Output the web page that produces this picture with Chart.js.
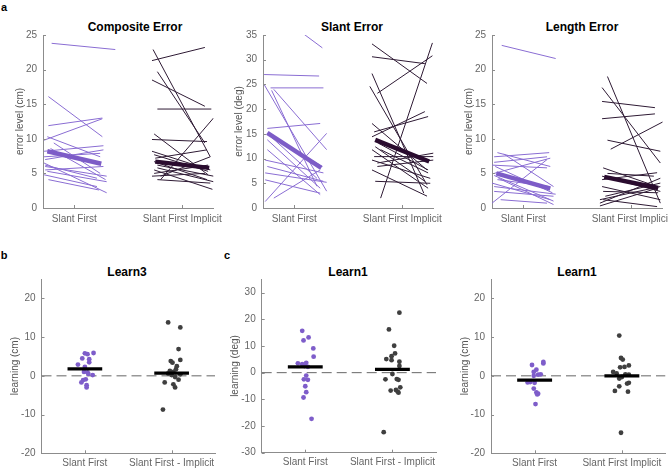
<!DOCTYPE html>
<html>
<head><meta charset="utf-8"><title>Error and learning</title>
<script src="https://cdn.jsdelivr.net/npm/chart.js"></script>
<style>
body{margin:0;width:668px;height:469px;position:relative;background:#fff;overflow:hidden;font-family:"Liberation Sans",Arial,sans-serif;}
canvas{position:absolute;left:0;top:0;}
.t{position:absolute;font-weight:bold;font-size:12px;transform:translate(-50%,-50%);white-space:nowrap;color:#000;}
</style>
</head>
<body>
<div class="t" style="left:4px;top:7px;font-size:11px">a</div>
<div class="t" style="left:4px;top:255px;font-size:11px">b</div>
<div class="t" style="left:227px;top:255px;font-size:11px">c</div>
<div class="t" style="left:135px;top:27px">Composite Error</div>
<div class="t" style="left:352px;top:27px">Slant Error</div>
<div class="t" style="left:582px;top:27px">Length Error</div>
<div class="t" style="left:127px;top:272px">Learn3</div>
<div class="t" style="left:348px;top:272px">Learn1</div>
<div class="t" style="left:577px;top:272px">Learn1</div>
<canvas id="a1" width="668" height="469"></canvas>
<canvas id="a2" width="668" height="469"></canvas>
<canvas id="a3" width="668" height="469"></canvas>
<canvas id="b1" width="668" height="469"></canvas>
<canvas id="c1" width="668" height="469"></canvas>
<canvas id="c2" width="668" height="469"></canvas>
<script>
// categories
const groupsTop = ['Slant First', 'Slant First Implicit'];
const groupsDash = ['Slant First', 'Slant First - Implicit'];

// y ticks
const ticks25 = [0, 5, 10, 15, 20, 25];
const ticks35 = [0, 5, 10, 15, 20, 25, 30, 35];
const ticksCm = [-20, -10, 0, 10, 20];
const ticksDeg = [-30, -20, -10, 0, 10, 20, 30];

// a: composite error (cm), one line per subject, before -> after (x = jittered ends)
const compP_pre  = [23.8, 16.1, 11.9, 9.8, 10.3, 8.2, 7.0, 7.4, 6.0, 5.3, 4.8, 8.6, 9.4, 6.5, 4.1, 5.5, 6.2];
const compP_post = [22.9, 10.3, 13.0, 12.9, 7.4, 9.0, 8.4, 7.9, 4.6, 3.8, 3.1, 4.1, 5.0, 2.2, 2.6, 6.0, 4.3];
const compP_x0   = [0.79, 0.76, 0.76, 0.72, 0.75, 0.72, 0.73, 0.72, 0.73, 0.75, 0.72, 0.78, 0.81, 0.72, 0.76, 0.73, 0.73];
const compP_x1   = [1.38, 1.26, 1.26, 1.26, 1.24, 1.27, 1.27, 1.24, 1.30, 1.30, 1.21, 1.29, 1.24, 1.30, 1.23, 1.27, 1.21];
const compB_pre  = [21.3, 22.9, 19.7, 18.5, 14.3, 9.9, 10.7, 4.1, 8.2, 5.5, 4.1, 7.2, 5.0, 6.2, 4.6, 5.8, 7.7, 4.6, 6.7];
const compB_post = [23.2, 7.4, 9.4, 14.7, 14.3, 9.6, 4.8, 13.0, 5.5, 2.7, 3.6, 8.4, 6.2, 4.6, 5.0, 3.8, 5.3, 7.4, 4.1];
const compB_x0   = [1.72, 1.73, 1.77, 1.72, 1.77, 1.72, 1.74, 1.80, 1.72, 1.74, 1.77, 1.75, 1.74, 1.77, 1.72, 1.77, 1.74, 1.80, 1.74];
const compB_x1   = [2.21, 2.26, 2.21, 2.21, 2.27, 2.23, 2.24, 2.29, 2.26, 2.28, 2.26, 2.23, 2.24, 2.29, 2.21, 2.29, 2.24, 2.26, 2.23];
const compP_mean = [8.2, 6.4];
const compB_mean = [6.7, 5.8];

// slant error (deg)
const slantP_pre  = [41.0, 27.0, 24.3, 25.0, 24.0, 23.8, 16.1, 15.0, 13.8, 11.8, 9.7, 8.4, 7.1, 5.7, 1.3, 2.0, 14.5];
const slantP_post = [32.4, 26.7, 24.3, 3.4, 11.8, 4.4, 17.1, 8.4, 4.0, 2.7, 7.1, 5.4, 5.2, 3.0, 15.1, 7.7, 6.0];
const slantP_x0   = [0.73, 0.72, 0.78, 0.72, 0.81, 0.79, 0.75, 0.75, 0.75, 0.75, 0.73, 0.75, 0.73, 0.73, 0.73, 0.81, 0.78];
const slantP_x1   = [1.26, 1.23, 1.27, 1.30, 1.30, 1.21, 1.24, 1.26, 1.24, 1.24, 1.27, 1.27, 1.30, 1.24, 1.30, 1.24, 1.21];
const slantB_pre  = [33.2, 30.6, 27.2, 24.6, 23.2, 14.4, 15.4, 17.1, 2.0, 11.8, 10.4, 9.7, 7.7, 5.4, 9.1, 13.1, 12.4, 8.4, 11.8];
const slantB_post = [25.2, 29.2, 3.0, 4.7, 30.8, 19.5, 18.5, 7.7, 33.4, 4.0, 10.4, 6.0, 2.4, 5.0, 11.1, 7.7, 5.4, 9.7, 7.1];
const slantB_x0   = [1.72, 1.72, 1.72, 1.70, 1.77, 1.72, 1.74, 1.72, 1.80, 1.72, 1.74, 1.72, 1.72, 1.75, 1.77, 1.78, 1.75, 1.77, 1.80];
const slantB_x1   = [2.23, 2.21, 2.20, 2.23, 2.28, 2.21, 2.24, 2.23, 2.28, 2.24, 2.29, 2.26, 2.23, 2.26, 2.29, 2.24, 2.21, 2.29, 2.24];
const slantP_mean = [15.2, 8.1];
const slantB_mean = [13.8, 9.4];

// length error (cm)
const lenP_pre  = [23.5, 8.0, 7.4, 6.6, 6.2, 7.8, 5.0, 3.6, 2.4, 0.7, 4.3, 6.0, 3.1, 1.2, 4.1, 4.7];
const lenP_post = [21.6, 6.0, 8.0, 7.4, 5.8, 3.1, 7.2, 1.2, 1.7, 7.0, 0.5, 2.2, 2.0, 0.7, 3.1, 1.0];
const lenP_x0   = [0.80, 0.76, 0.73, 0.73, 0.71, 0.82, 0.73, 0.71, 0.73, 0.71, 0.77, 0.74, 0.73, 0.79, 0.76, 0.73];
const lenP_x1   = [1.30, 1.25, 1.24, 1.22, 1.22, 1.28, 1.25, 1.25, 1.28, 1.22, 1.28, 1.27, 1.30, 1.22, 1.25, 1.28];
const lenB_pre  = [17.4, 19.0, 15.4, 12.9, 9.8, 8.5, 5.8, 4.1, 3.1, 0.7, 2.4, 0.3, 1.7, 4.6, 1.2, 5.0, 1.2];
const lenB_post = [6.5, 0.7, 14.5, 13.6, 8.2, 12.5, 3.1, 5.1, 1.2, 4.3, 2.2, 2.9, 3.6, 2.4, 0.2, 4.6, 3.1];
const lenB_x0   = [1.73, 1.78, 1.73, 1.73, 1.78, 1.81, 1.74, 1.73, 1.73, 1.71, 1.74, 1.71, 1.76, 1.73, 1.74, 1.78, 1.71];
const lenB_x1   = [2.27, 2.27, 2.22, 2.22, 2.27, 2.30, 2.24, 2.24, 2.27, 2.27, 2.25, 2.25, 2.27, 2.27, 2.24, 2.21, 2.27];
const lenP_mean = [5.0, 2.8];
const lenB_mean = [4.5, 2.9];

// b: Learn3 (cm)
const l3P_x = [1.00, 1.03, 1.10, 0.97, 1.05, 1.05, 0.92, 1.00, 0.99, 1.03, 1.09, 1.04, 0.98, 1.01, 0.96, 1.02, 1.02];
const l3P_y = [5.8, 5.6, 5.9, 4.5, 4.3, 3.5, 2.9, 2.3, 1.0, 0.9, 0.2, 0.5, -1.1, -0.9, -1.7, -2.4, -3.0];
const l3B_x = [1.96, 2.10, 2.08, 2.10, 1.99, 2.01, 2.06, 2.05, 1.98, 2.02, 1.96, 2.10, 2.00, 2.04, 2.08, 1.92, 2.02, 2.04, 1.90];
const l3B_y = [13.8, 12.5, 6.9, 4.1, 3.8, 3.4, 2.5, 1.7, 1.3, 1.0, 0.6, 0.4, 0.2, -0.3, -1.0, -1.7, -2.2, -3.0, -8.7];
const l3_mean = [1.8, 0.7];

// c: Learn1 (deg)
const l1dP_x = [0.965, 1.038, 0.98, 1.092, 1.096, 0.915, 0.965, 1.011, 0.992, 1.03, 1.011, 0.984, 1.03, 1.0, 1.011, 0.98, 1.072];
const l1dP_y = [15.7, 13.2, 12.1, 9.1, 6.0, 3.5, 3.2, 3.7, 2.5, 2.2, -1.1, -2.5, -2.7, -5.1, -7.3, -9.3, -17.3];
const l1dB_x = [2.08, 1.96, 2.02, 2.03, 1.99, 1.93, 1.99, 2.08, 2.08, 2.00, 1.92, 2.05, 2.07, 2.09, 2.04, 2.06, 2.07, 1.98, 1.90];
const l1dB_y = [22.5, 16.2, 10.1, 7.2, 6.2, 5.1, 4.7, 4.1, 2.5, -0.5, -2.5, -2.4, -2.7, -5.5, -6.5, -7.1, -7.5, -6.7, -22.3];
const l1d_mean = [2.2, 1.2];

// c: Learn1 (cm)
const l1cP_x = [0.97, 1.10, 1.10, 1.02, 0.99, 1.07, 1.04, 0.99, 0.95, 0.92, 1.00, 0.99, 1.02, 1.04, 1.03, 1.01];
const l1cP_y = [2.8, 3.6, 3.2, 1.6, 1.0, 0.4, 0.3, 0.0, -1.6, -1.7, -1.8, -3.3, -4.3, -4.6, -4.8, -7.3];
const l1cB_x = [1.97, 1.99, 2.01, 2.08, 1.98, 2.03, 1.90, 1.94, 2.04, 2.08, 2.00, 1.97, 2.06, 2.08, 1.97, 1.92, 2.07, 1.99];
const l1cB_y = [10.4, 4.6, 4.2, 2.7, 2.2, 2.3, 1.0, 0.6, 0.4, 0.3, -0.3, -0.7, -2.0, -1.8, -2.7, -3.9, -4.1, -14.7];
const l1c_mean = [-1.1, 0.0];

const purple = '#8a6dd3', purpleMean = '#7d5cc7', dark = '#2e1a34', darkMean = '#2a0c2f';
const dotPurple = '#7e5dca', dotGray = '#3f3f3f';
const axisColor = '#8c8c8c', tickColor = '#666';
const font = { family: '"Liberation Sans", Arial, sans-serif', size: 10 };

// MATLAB style ticks pointing into the axes
const inwardTicks = {
  id: 'inwardTicks',
  afterDraw(chart) {
    const { ctx, chartArea: a, scales: { x, y } } = chart;
    ctx.save();
    ctx.strokeStyle = axisColor;
    ctx.lineWidth = 1;
    ctx.beginPath();
    y.ticks.forEach(t => { const p = Math.round(y.getPixelForValue(t.value)) + 0.5; ctx.moveTo(a.left, p); ctx.lineTo(a.left + 3, p); });
    x.ticks.forEach(t => { const p = Math.round(x.getPixelForValue(t.value)) + 0.5; ctx.moveTo(p, a.bottom); ctx.lineTo(p, a.bottom - 3); });
    ctx.stroke();
    ctx.restore();
  }
};

function slopeSets(pre, post, x0, x1, color) {
  return pre.map((v, i) => ({
    data: [{ x: x0[i], y: v }, { x: x1[i], y: post[i] }],
    borderColor: color, borderWidth: 1, pointRadius: 0
  }));
}
function meanLine(m, g, color) {
  return { data: [{ x: g - 0.25, y: m[0] }, { x: g + 0.25, y: m[1] }], borderColor: color, borderWidth: 4.5, pointRadius: 0 };
}
function dots(xs, ys, color) {
  return { data: ys.map((v, i) => ({ x: xs[i], y: v })), showLine: false, pointRadius: 2.4,
           pointBackgroundColor: color, pointBorderColor: color, pointBorderWidth: 0, borderWidth: 0 };
}
function meanBar(m, g) {
  return { data: [{ x: g - 0.2, y: m }, { x: g + 0.2, y: m }], borderColor: '#000', borderWidth: 3.3, pointRadius: 0 };
}
function zeroLine(xr) {
  return { data: [{ x: xr[0], y: 0 }, { x: xr[1], y: 0 }], borderColor: '#666', borderWidth: 1, borderDash: [10, 5], pointRadius: 0 };
}

function draw(id, box, xr, yr, yTicks, labels, yTitle, datasets) {
  const yW = box.L - (box.tx - 6);
  new Chart(document.getElementById(id), {
    type: 'line',
    data: { datasets },
    options: {
      responsive: false, animation: false, events: [],
      layout: { autoPadding: false, padding: { left: box.tx - 6, top: box.T, right: 668 - box.R, bottom: 469 - box.B - 20 } },
      plugins: { legend: { display: false }, tooltip: { enabled: false } },
      scales: {
        x: {
          type: 'linear', min: xr[0], max: xr[1],
          afterBuildTicks: s => { s.ticks = [{ value: 1 }, { value: 2 }]; },
          afterFit: s => { s.height = 20; s.paddingLeft = 0; s.paddingRight = 0; },
          grid: { display: false, drawTicks: false }, border: { color: axisColor },
          ticks: { padding: box.xp, color: tickColor, font, maxRotation: 0, autoSkip: false,
                   callback: (v, i) => labels[i] }
        },
        y: {
          type: 'linear', min: yr[0], max: yr[1],
          afterBuildTicks: s => { s.ticks = yTicks.map(v => ({ value: v })); },
          afterFit: s => { s.width = yW; s.paddingTop = 0; s.paddingBottom = 0; },
          grid: { display: false, drawTicks: false }, border: { color: axisColor },
          ticks: { padding: 6, color: tickColor, font },
          title: { display: true, text: yTitle, color: '#555', font, padding: 0 }
        }
      }
    },
    plugins: [inwardTicks]
  });
}

const xTop = [0.71, 2.29], xBot = [0.5, 2.5];

draw('a1', { L: 43, R: 213.5, T: 35, B: 208, tx: 20, xp: 5 }, xTop, [0, 25], ticks25, groupsTop, 'error level (cm)',
  [meanLine(compP_mean, 1, purpleMean), meanLine(compB_mean, 2, darkMean)]
    .concat(slopeSets(compP_pre, compP_post, compP_x0, compP_x1, purple))
    .concat(slopeSets(compB_pre, compB_post, compB_x0, compB_x1, dark)));

draw('a2', { L: 263, R: 433.5, T: 35, B: 208, tx: 239, xp: 5 }, xTop, [0, 35], ticks35, groupsTop, 'error level (deg)',
  [meanLine(slantP_mean, 1, purpleMean), meanLine(slantB_mean, 2, darkMean)]
    .concat(slopeSets(slantP_pre, slantP_post, slantP_x0, slantP_x1, purple))
    .concat(slopeSets(slantB_pre, slantB_post, slantB_x0, slantB_x1, dark)));

draw('a3', { L: 492, R: 662.5, T: 35, B: 208, tx: 469, xp: 5 }, xTop, [0, 25], ticks25, groupsTop, 'error level (cm)',
  [meanLine(lenP_mean, 1, purpleMean), meanLine(lenB_mean, 2, darkMean)]
    .concat(slopeSets(lenP_pre, lenP_post, lenP_x0, lenP_x1, purple))
    .concat(slopeSets(lenB_pre, lenB_post, lenB_x0, lenB_x1, dark)));

draw('b1', { L: 41.5, R: 215, T: 279, B: 453.3, tx: 15, xp: 4 }, xBot, [-20, 25], ticksCm, groupsDash, 'learning (cm)',
  [meanBar(l3_mean[0], 1), meanBar(l3_mean[1], 2), dots(l3P_x, l3P_y, dotPurple), dots(l3B_x, l3B_y, dotGray), zeroLine(xBot)]);

draw('c1', { L: 261.7, R: 436, T: 279.3, B: 452.7, tx: 235, xp: 4 }, xBot, [-30, 35], ticksDeg, groupsDash, 'learning (deg)',
  [meanBar(l1d_mean[0], 1), meanBar(l1d_mean[1], 2), dots(l1dP_x, l1dP_y, dotPurple), dots(l1dB_x, l1dB_y, dotGray), zeroLine(xBot)]);

draw('c2', { L: 491, R: 665.5, T: 279, B: 453.3, tx: 465, xp: 4 }, xBot, [-20, 25], ticksCm, groupsTop, 'learning (cm)',
  [meanBar(l1c_mean[0], 1), meanBar(l1c_mean[1], 2), dots(l1cP_x, l1cP_y, dotPurple), dots(l1cB_x, l1cB_y, dotGray), zeroLine(xBot)]);
</script>
</body>
</html>
